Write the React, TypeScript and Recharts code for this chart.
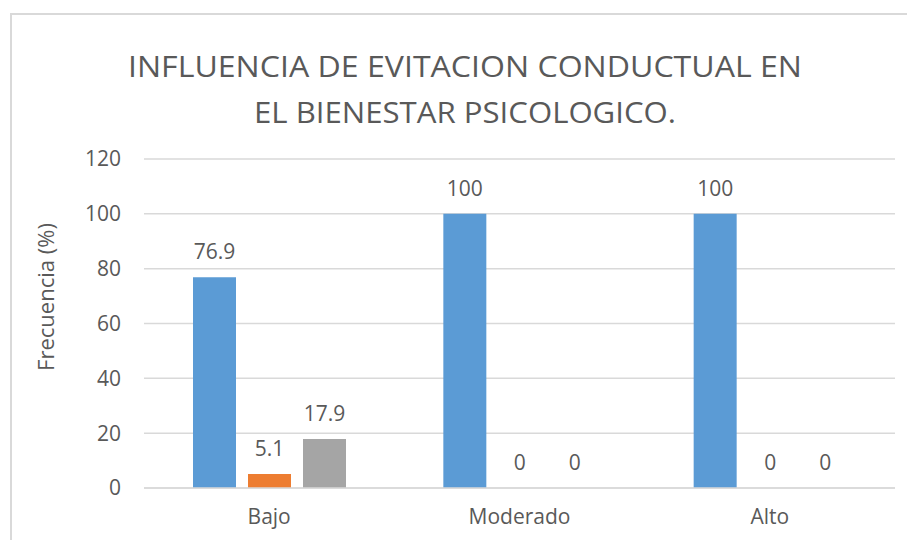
import React from "react";
import { BarChart, Bar, XAxis, YAxis, CartesianGrid, LabelList } from "recharts";

const categories = ["Bajo", "Moderado", "Alto"];
const serie1 = [76.9, 100, 100];
const serie2 = [5.1, 0, 0];
const serie3 = [17.9, 0, 0];
const yTicks = [0, 20, 40, 60, 80, 100, 120];
const titleLines = ["INFLUENCIA DE EVITACION CONDUCTUAL EN", "EL BIENESTAR PSICOLOGICO."];
const yLabel = "Frecuencia (%)";

const data = categories.map((c, i) => ({ name: c, s1: serie1[i], s2: serie2[i], s3: serie3[i] }));

const FONT = "'Open Sans', 'DejaVu Sans', sans-serif";
const TXT = "#595959";

export default function App() {
  return (
    <div style={{ position: "absolute", left: 0, top: 0, width: 907, height: 540, background: "#fff", overflow: "hidden" }}>
      <div
        style={{
          position: "absolute",
          left: 10,
          top: 13,
          width: 920,
          height: 560,
          borderLeft: "2px solid #d9d9d9",
          borderTop: "2px solid #d9d9d9",
        }}
      />
      <svg width={907} height={140} style={{ position: "absolute", left: 0, top: 0 }}>
        <text x={465} y={77} textAnchor="middle" fontFamily={FONT} fontSize={30} fontWeight={400} fill={TXT} textLength={674} lengthAdjust="spacingAndGlyphs">
          {titleLines[0]}
        </text>
        <text x={465} y={123} textAnchor="middle" fontFamily={FONT} fontSize={30} fontWeight={400} fill={TXT} textLength={422} lengthAdjust="spacingAndGlyphs">
          {titleLines[1]}
        </text>
      </svg>
      <div style={{ position: "absolute", left: 0, top: 0 }}>
        <BarChart
          width={907}
          height={540}
          data={data}
          margin={{ top: 159, right: 12, bottom: 0, left: 0 }}
          barSize={43}
          barGap={12}
        >
          <CartesianGrid vertical={false} stroke="#d9d9d9" strokeWidth={1.5} />
          <XAxis
            dataKey="name"
            axisLine={{ stroke: "#d9d9d9", strokeWidth: 1.5 }}
            tickLine={false}
            tickSize={0}
            tickMargin={21}
            height={52}
            tick={{ fill: TXT, fontSize: 21, fontFamily: FONT }}
          />
          <YAxis
            domain={[0, 120]}
            ticks={yTicks}
            interval={0}
            axisLine={false}
            tickLine={false}
            tickSize={0}
            tickMargin={23}
            width={144}
            tick={{ fill: TXT, fontSize: 21, fontFamily: FONT }}
            label={{
              content: () => (
                <text
                  x={45}
                  y={297}
                  transform="rotate(-90 45 297)"
                  textAnchor="middle"
                  dominantBaseline="central"
                  fontFamily={FONT}
                  fontSize={22}
                  fill={TXT}
                >
                  {yLabel}
                </text>
              ),
            }}
          />
          <Bar dataKey="s1" fill="#5B9BD5" minPointSize={0.01} isAnimationActive={false}>
            <LabelList dataKey="s1" position="top" offset={18} fill={TXT} fontSize={21} fontFamily={FONT} />
          </Bar>
          <Bar dataKey="s2" fill="#ED7D31" minPointSize={0.01} isAnimationActive={false}>
            <LabelList dataKey="s2" position="top" offset={18} fill={TXT} fontSize={21} fontFamily={FONT} />
          </Bar>
          <Bar dataKey="s3" fill="#A5A5A5" minPointSize={0.01} isAnimationActive={false}>
            <LabelList dataKey="s3" position="top" offset={18} fill={TXT} fontSize={21} fontFamily={FONT} />
          </Bar>
        </BarChart>
      </div>
    </div>
  );
}
